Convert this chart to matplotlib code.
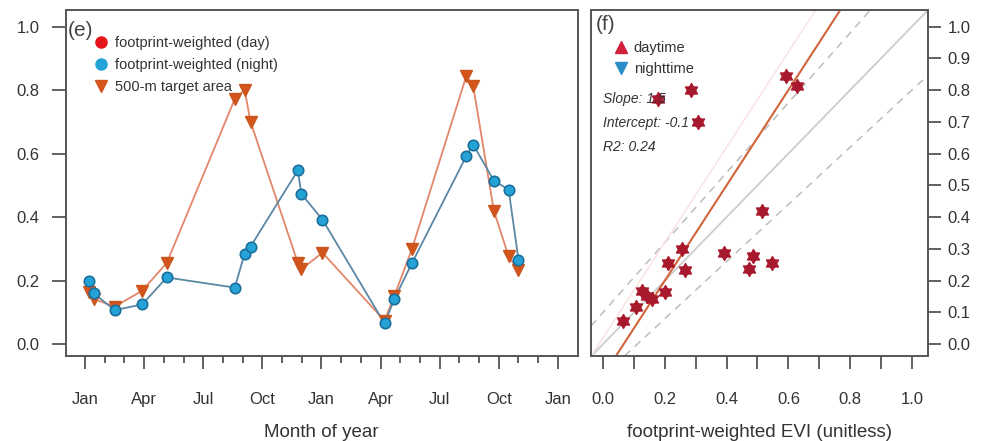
import numpy as np
import matplotlib.pyplot as plt
from matplotlib.lines import Line2D
from matplotlib.path import Path

plt.rcParams['font.family'] = ['Liberation Sans', 'DejaVu Sans']

# months since Jan of first year
months = [0.22, 0.45, 1.5, 2.9, 4.15, 7.6, 8.1, 8.4, 10.8, 10.98, 12.05,
          15.2, 15.7, 16.6, 19.35, 19.7, 20.75, 21.5, 22.0]
# footprint-weighted EVI (night)
fp_night = [0.20, 0.16, 0.107, 0.125, 0.21, 0.178, 0.285, 0.307, 0.547, 0.473,
            0.392, 0.065, 0.142, 0.256, 0.592, 0.628, 0.515, 0.486, 0.266]
# 500-m target area EVI
target = [0.165, 0.142, 0.118, 0.168, 0.256, 0.772, 0.80, 0.70, 0.256, 0.236,
          0.288, 0.074, 0.152, 0.301, 0.844, 0.813, 0.42, 0.276, 0.232]

month_labels = ['Jan', 'Apr', 'Jul', 'Oct', 'Jan', 'Apr', 'Jul', 'Oct', 'Jan']
slope, intercept, r2 = 1.5, -0.1, 0.24

# up + down triangle overlaid (centroid centred) -> hexagram
ang_up = np.deg2rad([90, 210, 330])
ang_dn = np.deg2rad([270, 30, 150])
verts = []
codes = []
for ang in (ang_up, ang_dn):
    pts = np.column_stack([np.cos(ang), np.sin(ang)])
    verts += list(pts) + [pts[0]]
    codes += [Path.MOVETO, Path.LINETO, Path.LINETO, Path.CLOSEPOLY]
star = Path(verts, codes)

fig = plt.figure(figsize=(9.84, 4.41), dpi=100)
ax1 = fig.add_axes([0.067, 0.193, 0.520, 0.785])
ax2 = fig.add_axes([0.6006, 0.193, 0.3425, 0.785])

edge = '#555555'
txt = '#333333'
for ax in (ax1, ax2):
    for s in ax.spines.values():
        s.set_color(edge)
        s.set_linewidth(1.4)

# ---- panel (e)
ax1.plot(months, target, '-', color='#e3866a', lw=1.3, zorder=2)
ax1.plot(months, target, 'v', ms=8, mfc='#d4541c', mec='#c8561e', zorder=3)
ax1.plot(months, fp_night, '-', color='#5b87a6', lw=1.3, zorder=2)
ax1.plot(months, fp_night, 'o', ms=7.5, mfc='#25a3d6', mec='#1b6f9c', mew=1.2, zorder=4)

ax1.set_xlim(-0.97, 25.0)
ax1.set_ylim(-0.037, 1.053)
ax1.set_xticks(np.arange(0, 25, 3))
ax1.set_xticklabels(month_labels)
ax1.set_xticks(np.arange(0, 25, 1), minor=True)
ax1.set_yticks(np.arange(0, 1.01, 0.2))
ax1.set_yticklabels(['%.1f' % v for v in np.arange(0, 1.01, 0.2)])
ax1.tick_params(axis='x', which='major', length=9, width=1.3, color=edge, pad=17,
                labelsize=12, labelcolor=txt)
ax1.tick_params(axis='x', which='minor', length=5, width=1.3, color=edge)
ax1.tick_params(axis='y', length=10, width=1.3, color=edge, pad=9,
                labelsize=12, labelcolor=txt)
ax1.set_xlabel('Month of year', fontsize=13.5, color=txt, labelpad=12)
ax1.text(0.004, 0.925, '(e)', transform=ax1.transAxes, fontsize=15, color='#444444')

h1 = [Line2D([], [], ls='', marker='o', ms=8, mfc='#e8141c', mec='#e8141c'),
      Line2D([], [], ls='', marker='o', ms=8, mfc='#25a3d6', mec='#25a3d6'),
      Line2D([], [], ls='', marker='v', ms=8.5, mfc='#d4541c', mec='#d4541c')]
ax1.legend(h1, ['footprint-weighted (day)', 'footprint-weighted (night)',
                '500-m target area'],
           loc='upper left', bbox_to_anchor=(0.04, 0.94), frameon=False,
           fontsize=10.5, handletextpad=0.35, labelspacing=0.55, borderaxespad=0,
           labelcolor=txt, handlelength=1.2)

# ---- panel (f)
ax2.axline((0, 0), slope=1, color='#cccccc', lw=1.3, zorder=1)
ax2.axline((0, 0.1), slope=1.1, color='#bdbdbd', lw=1.1, ls=(0, (5, 4)), zorder=1)
ax2.axline((0, -0.1), slope=0.9, color='#bdbdbd', lw=1.1, ls=(0, (5, 4)), zorder=1)
ax2.axline((0, intercept + 0.12), slope=slope, color='#f9e0e0', lw=1.0, zorder=1)
ax2.axline((0, intercept), slope=slope, color='#d2643c', lw=1.5, zorder=2)

ax2.plot(fp_night, target, ls='', marker=star, ms=10, mfc='#a8192d', mec='#a8192d',
         zorder=3)

ax2.set_xlim(-0.039, 1.052)
ax2.set_ylim(-0.037, 1.053)
ax2.set_xticks(np.arange(0, 1.01, 0.2))
ax2.set_xticklabels(['%.1f' % v for v in np.arange(0, 1.01, 0.2)])
ax2.set_xticks(np.arange(0.1, 1.0, 0.2), minor=True)
ax2.tick_params(axis='x', which='both', length=9, width=1.3, color=edge, pad=17,
                labelsize=12, labelcolor=txt)
ax2.yaxis.tick_right()
ax2.set_yticks(np.arange(0, 1.01, 0.1))
ax2.set_yticklabels(['%.1f' % v for v in np.arange(0, 1.01, 0.1)])
ax2.tick_params(axis='y', length=9, width=1.3, color=edge, pad=5,
                labelsize=12, labelcolor=txt)
ax2.set_xlabel('footprint-weighted EVI (unitless)', fontsize=13.5, color=txt,
               labelpad=12)
ax2.text(0.015, 0.94, '(f)', transform=ax2.transAxes, fontsize=15, color='#444444')

h2 = [Line2D([], [], ls='', marker='^', ms=8, mfc='#d0203c', mec='#d0203c'),
      Line2D([], [], ls='', marker='v', ms=8, mfc='#2a8fc8', mec='#2a8fc8')]
ax2.legend(h2, ['daytime', 'nighttime'], loc='upper left',
           bbox_to_anchor=(0.045, 0.925), frameon=False, fontsize=10.5,
           handletextpad=0.3, labelspacing=0.45, borderaxespad=0,
           labelcolor=txt, handlelength=1.2)

ax2.text(0.035, 0.743, 'Slope: %.1f' % slope, transform=ax2.transAxes,
         fontsize=10, style='italic', color=txt, va='center')
ax2.text(0.035, 0.673, 'Intercept: %.1f' % intercept, transform=ax2.transAxes,
         fontsize=10, style='italic', color=txt, va='center')
ax2.text(0.035, 0.603, 'R2: %.2f' % r2, transform=ax2.transAxes,
         fontsize=10, style='italic', color=txt, va='center')

fig.savefig('out.png', dpi=100)
